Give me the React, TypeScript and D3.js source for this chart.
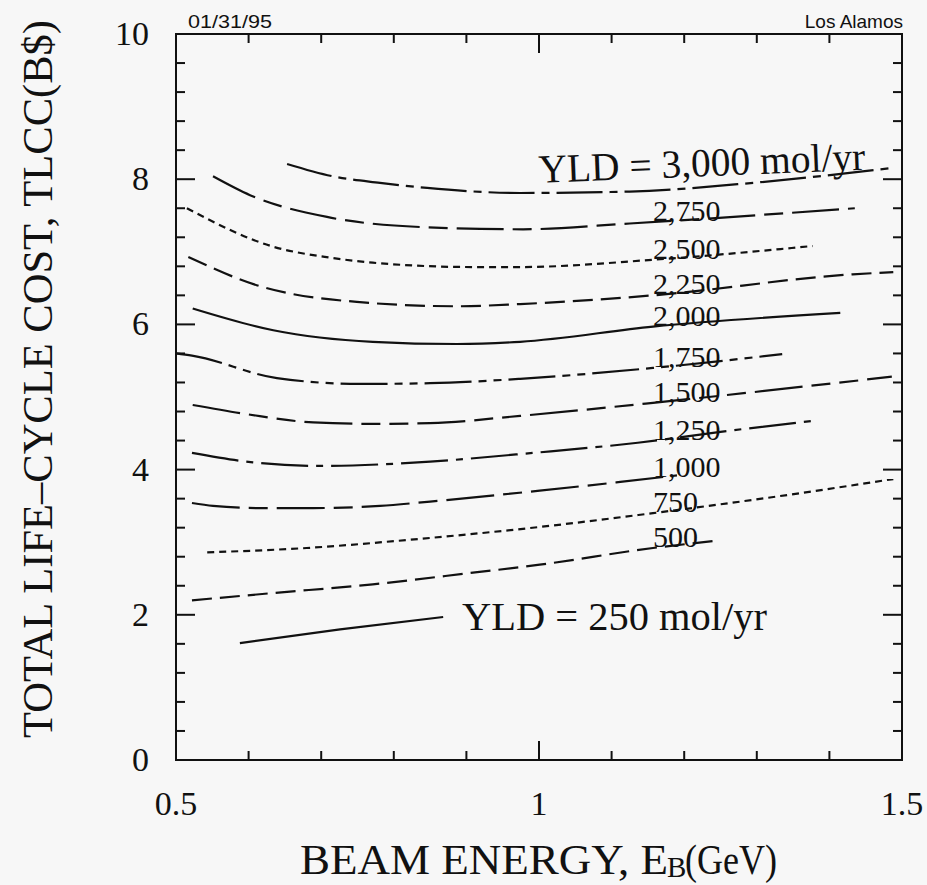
import * as d3 from "d3";
import React from "react";

// beam energy (GeV) vs total life-cycle cost (B$), one array per yield curve
const yld3000 = [[0.653, 8.21], [0.716, 8.04], [0.781, 7.95], [0.846, 7.88], [0.974, 7.81], [1.125, 7.83], [1.295, 7.95], [1.483, 8.15]];
const yld2750 = [[0.551, 8.04], [0.602, 7.78], [0.708, 7.48], [0.84, 7.34], [0.978, 7.31], [1.125, 7.39], [1.435, 7.6]];
const yld2500 = [[0.515, 7.6], [0.634, 7.07], [0.712, 6.92], [0.771, 6.85], [0.909, 6.79], [0.974, 6.79], [1.157, 6.89], [1.377, 7.08]];
const yld2250 = [[0.517, 6.93], [0.611, 6.54], [0.749, 6.31], [0.887, 6.25], [0.974, 6.28], [1.157, 6.4], [1.432, 6.69], [1.488, 6.72]];
const yld2000 = [[0.523, 6.22], [0.634, 5.92], [0.771, 5.76], [0.887, 5.73], [0.974, 5.76], [1.157, 5.97], [1.415, 6.16]];
const yld1750 = [[0.5, 5.6], [0.522, 5.57], [0.639, 5.26], [0.753, 5.18], [0.85, 5.19], [0.974, 5.25], [1.157, 5.4], [1.335, 5.59]];
const yld1500 = [[0.523, 4.89], [0.6, 4.76], [0.689, 4.65], [0.771, 4.63], [0.85, 4.64], [0.974, 4.74], [1.157, 4.92], [1.486, 5.28]];
const yld1250 = [[0.522, 4.23], [0.606, 4.1], [0.702, 4.05], [0.799, 4.08], [0.85, 4.11], [0.992, 4.23], [1.136, 4.37], [1.25, 4.52], [1.376, 4.67]];
const yld1000 = [[0.522, 3.54], [0.551, 3.5], [0.616, 3.47], [0.689, 3.47], [0.781, 3.5], [0.85, 3.56], [1.001, 3.71], [1.112, 3.83], [1.19, 3.92]];
const yld750 = [[0.543, 2.86], [0.68, 2.92], [0.818, 3.03], [1.001, 3.21], [1.157, 3.4], [1.342, 3.65], [1.488, 3.87]];
const yld500 = [[0.522, 2.2], [0.634, 2.3], [0.771, 2.42], [0.909, 2.58], [1.001, 2.69], [1.157, 2.92], [1.245, 3.02]];
const yld250 = [[0.588, 1.61], [0.726, 1.8], [0.868, 1.97]];

const curveLabels = ["3,000", "2,750", "2,500", "2,250", "2,000", "1,750", "1,500", "1,250", "1,000", "750", "500", "250"];
const curveData = [yld3000, yld2750, yld2500, yld2250, yld2000, yld1750, yld1500, yld1250, yld1000, yld750, yld500, yld250];
const dashes = ["46,7,8,7", "47,9,19,9", "7,5", "20,8", null, "47,7,8,7,8,7", "48,9,19,9,19,9", "47,8,7,8", "48,9,19,9", "7,5", "20,8", null];

const xTickLabels = [0.5, 1, 1.5];
const yTickLabels = [0, 2, 4, 6, 8, 10];
const labelE = 1.157;

const W = 927;
const H = 885;
const bg = "#f7f7f7";
const ink = "#111";
const serif = "'Liberation Serif', 'Times New Roman', serif";
const sans = "'Liberation Sans', Arial, sans-serif";

const x = d3.scaleLinear().domain([0.5, 1.5]).range([176, 902]);
const y = d3.scaleLinear().domain([0, 10]).range([760, 34]);

function valueAt(pts, e) {
  const i = d3.bisector((d) => d[0]).left(pts, e);
  if (i <= 0) return pts[0][1];
  if (i >= pts.length) return pts[pts.length - 1][1];
  const a = pts[i - 1], b = pts[i];
  return a[1] + ((b[1] - a[1]) * (e - a[0])) / (b[0] - a[0]);
}

export default function App() {
  const line = d3
    .line()
    .x((d) => x(d[0]))
    .y((d) => y(d[1]))
    .curve(d3.curveMonotoneX);

  const [x0, x1] = x.range();
  const [yb, yt] = y.range();

  const xMinor = d3.range(0.5, 1.5001, 0.1);
  const yMinor = d3.range(0, 10.001, 0.4);

  return (
    <svg width={W} height={H} style={{ position: "absolute", left: 0, top: 0, background: bg }}>
      <rect width={W} height={H} fill={bg} />

      {/* frame */}
      <rect x={x0} y={yt} width={x1 - x0} height={yb - yt} fill="none" stroke={ink} strokeWidth={2} />

      {/* x ticks, bottom and top */}
      {xMinor.map((v, i) => {
        const major = xTickLabels.some((t) => Math.abs(t - v) < 1e-6);
        const len = major ? 19 : 9;
        return (
          <g key={"xt" + i} stroke={ink} strokeWidth={2}>
            <line x1={x(v)} x2={x(v)} y1={yb} y2={yb - len} />
            <line x1={x(v)} x2={x(v)} y1={yt} y2={yt + len} />
          </g>
        );
      })}
      {/* y ticks, left and right */}
      {yMinor.map((v, i) => {
        const major = yTickLabels.some((t) => Math.abs(t - v) < 1e-6);
        const len = major ? 19 : 9;
        return (
          <g key={"yt" + i} stroke={ink} strokeWidth={2}>
            <line x1={x0} x2={x0 + len} y1={y(v)} y2={y(v)} />
            <line x1={x1} x2={x1 - len} y1={y(v)} y2={y(v)} />
          </g>
        );
      })}

      {/* tick labels */}
      {xTickLabels.map((v) => (
        <text key={"xl" + v} x={x(v)} y={815} textAnchor="middle" fontFamily={serif} fontSize={34} fill={ink}>
          {String(v)}
        </text>
      ))}
      {yTickLabels.map((v) => (
        <text key={"yl" + v} x={149} y={y(v) + 11} textAnchor="end" fontFamily={serif} fontSize={34} fill={ink}>
          {String(v)}
        </text>
      ))}

      {/* curves */}
      {curveData.map((pts, i) => (
        <path
          key={"c" + i}
          d={line(pts)}
          fill="none"
          stroke={ink}
          strokeWidth={2.2}
          strokeDasharray={dashes[i] || undefined}
        />
      ))}

      {/* curve labels */}
      {curveLabels.slice(1, 11).map((lab, i) => (
        <text
          key={"lab" + i}
          x={x(labelE)}
          y={y(valueAt(curveData[i + 1], labelE)) - 1}
          fontFamily={serif}
          fontSize={30}
          fill={ink}
        >
          {lab}
        </text>
      ))}
      <text
        transform={`translate(${x(1.0)},${y(7.95)}) rotate(-2.3)`}
        fontFamily={serif}
        fontSize={40}
        fill={ink}
        textLength={327}
        lengthAdjust="spacingAndGlyphs"
      >
        YLD = {curveLabels[0]} mol/yr
      </text>
      <text
        x={x(0.894)}
        y={y(1.79)}
        fontFamily={serif}
        fontSize={40}
        fill={ink}
        textLength={305}
        lengthAdjust="spacingAndGlyphs"
      >
        YLD = {curveLabels[11]} mol/yr
      </text>

      {/* header notes */}
      <text x={188} y={28} fontFamily={sans} fontSize={19} fill={ink} textLength={84} lengthAdjust="spacingAndGlyphs">
        01/31/95
      </text>
      <text x={903} y={28} textAnchor="end" fontFamily={sans} fontSize={19} fill={ink}>
        Los Alamos
      </text>

      {/* axis titles */}
      <text x={300} y={874} fontFamily={serif} fontSize={43} fill={ink} textLength={368} lengthAdjust="spacingAndGlyphs">
        BEAM ENERGY, E
      </text>
      <text x={667} y={877} fontFamily={serif} fontSize={29} fill={ink}>
        B
      </text>
      <text x={685} y={874} fontFamily={serif} fontSize={43} fill={ink} textLength={92} lengthAdjust="spacingAndGlyphs">
        (GeV)
      </text>
      <text
        transform="translate(52,738) rotate(-90)"
        fontFamily={serif}
        fontSize={42}
        fill={ink}
        textLength={718}
        lengthAdjust="spacingAndGlyphs"
      >
        TOTAL LIFE–CYCLE COST, TLCC(B$)
      </text>
    </svg>
  );
}
